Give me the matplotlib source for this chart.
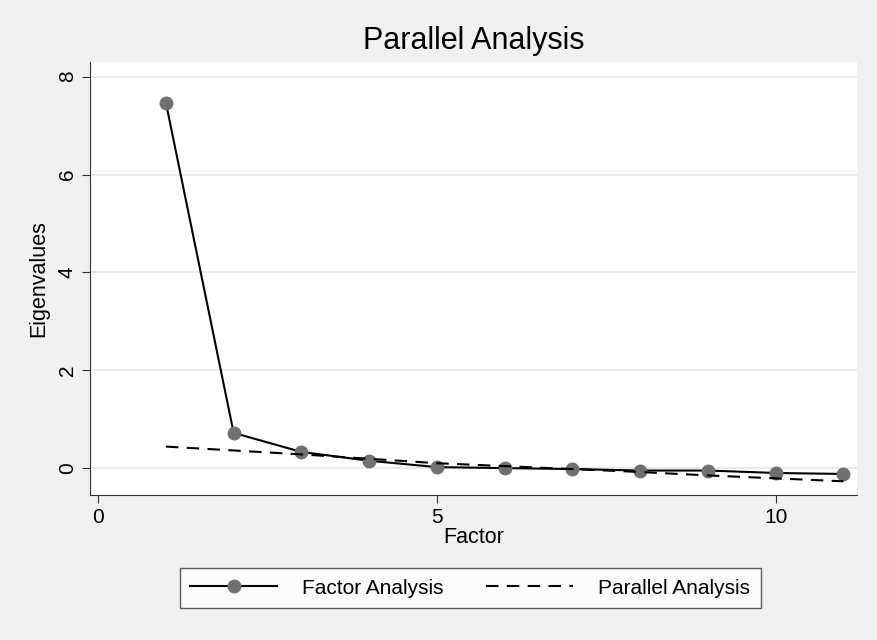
import matplotlib
matplotlib.use("Agg")
import matplotlib.pyplot as plt

plt.rcParams['font.family'] = ['Liberation Sans', 'DejaVu Sans']

factors = [1, 2, 3, 4, 5, 6, 7, 8, 9, 10, 11]
fa_eigen = [7.47, 0.72, 0.33, 0.15, 0.02, 0.0, -0.02, -0.05, -0.05, -0.10, -0.12]
pa_eigen = [0.44, 0.36, 0.28, 0.19, 0.10, 0.04, -0.02, -0.08, -0.15, -0.21, -0.27]

fig = plt.figure(figsize=(8.77, 6.4), dpi=100, facecolor='#f0f0f0')
ax = fig.add_axes([90/877, 145/640, 767/877, 433/640])
ax.set_facecolor('white')

ax.plot(factors, fa_eigen, color='black', lw=1.5, marker='o', markersize=9,
        markerfacecolor='#707070', markeredgecolor='#707070', label='Factor Analysis')
ax.plot(factors, pa_eigen, color='black', lw=1.5, linestyle=(0, (6, 4)),
        label='Parallel Analysis')

ax.set_xlim(-0.12, 11.2)
ax.set_ylim(-0.55, 8.3)
ax.set_xticks([0, 5, 10])
ax.set_yticks([0, 2, 4, 6, 8])
ax.grid(axis='y', color='#e6e6e6', lw=1.2)
ax.set_axisbelow(True)
for s in ['top', 'right']:
    ax.spines[s].set_visible(False)
ax.spines['left'].set_color('#333333')
ax.spines['bottom'].set_color('#333333')
ax.tick_params(labelsize=15, length=6, color='#333333')
plt.setp(ax.get_yticklabels(), rotation=90, va='center')

ax.set_xlabel('Factor', fontsize=15.5, labelpad=0)
ax.set_ylabel('Eigenvalues', fontsize=15.5, labelpad=6)
ax.set_title('Parallel Analysis', fontsize=22, pad=9)

leg = fig.legend(loc='center', bbox_to_anchor=(470/877, 1 - 588/640), ncol=2,
                 fontsize=15, frameon=True, fancybox=False, edgecolor='#333333',
                 handlelength=4.2, handletextpad=1.2, columnspacing=2.0, borderpad=0.5)
leg.get_frame().set_linewidth(1.0)

fig.savefig('out.png', dpi=100, facecolor=fig.get_facecolor())
